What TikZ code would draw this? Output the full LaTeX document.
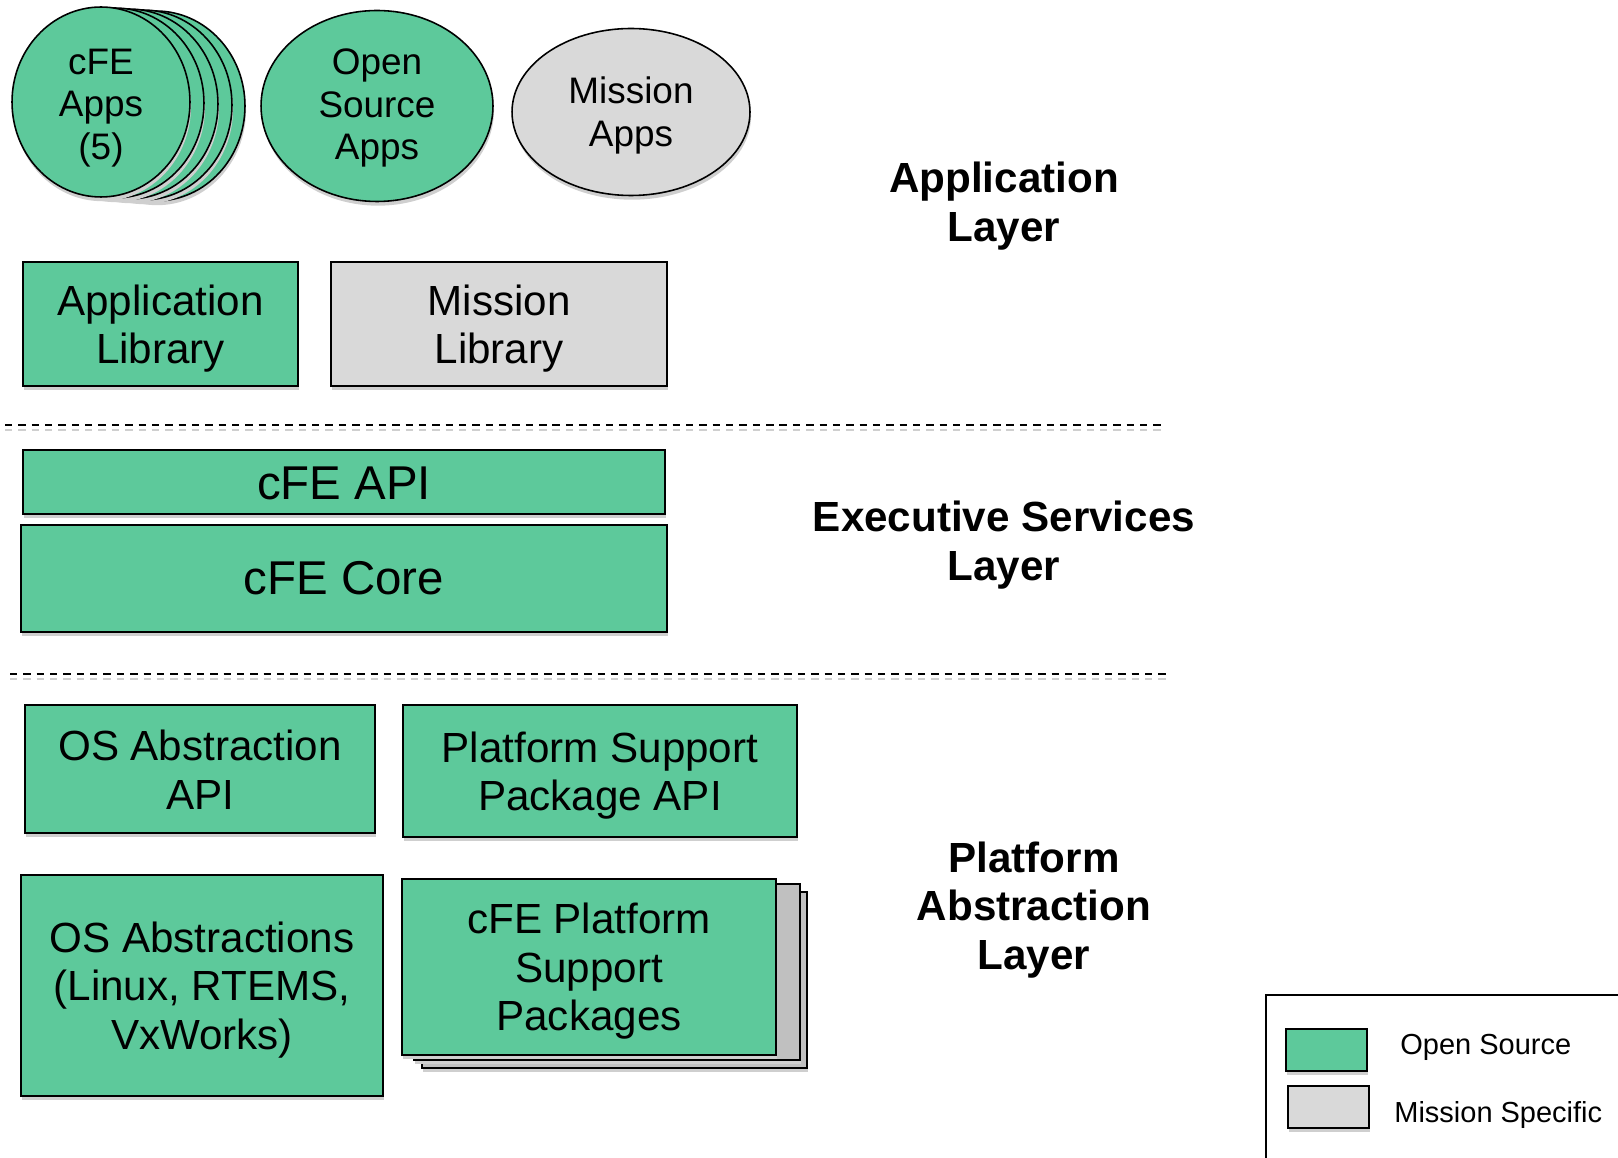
\documentclass[tikz,border=0pt]{standalone}
\usepackage{fontspec}
\setmainfont{Liberation Sans}
\usetikzlibrary{shapes.geometric,shadows}
\definecolor{osgreen}{HTML}{5DC99B}
\definecolor{msgray}{HTML}{D9D9D9}
\definecolor{stackgray}{HTML}{C0C0C0}
\definecolor{shadowgray}{HTML}{CFCFCF}
\begin{document}
\begin{tikzpicture}[x=0.02cm,y=-0.02cm,
  shadowed/.style={drop shadow={shadow xshift=0.6pt,shadow yshift=-2.4pt,fill=shadowgray,opacity=1}},
  box/.style={rectangle,draw=black,line width=1.1pt,inner sep=0pt,shadowed},
  boxtext/.style={align=center,inner sep=0pt,font=\fontsize{24}{27.6}\selectfont,yshift=-2.6pt},
  bigtext/.style={align=center,inner sep=0pt,font=\fontsize{27}{31}\selectfont},
  txt/.style={label={[boxtext]center:{#1}}},
  greenfill/.style={fill=osgreen},
  grayfill/.style={fill=msgray},
  app/.style={ellipse,draw=black,line width=0.9pt,inner sep=0pt,shadowed},
  apptext/.style={align=center,inner sep=0pt,font=\fontsize{21}{24.2}\selectfont},
  layer/.style={align=center,font=\fontsize{24}{27.6}\selectfont\bfseries},
  sep/.style={line width=1.2pt,dash pattern=on 4.2pt off 3.4pt},
  legtext/.style={anchor=west,inner sep=0pt,font=\fontsize{16.5}{19}\selectfont}]
\useasboundingbox (0,0) rectangle (1618,1158);

% --- Application layer: apps
\node[app,greenfill,minimum width=3.56cm,minimum height=3.8cm] (cfeE) at (156,106) {};
\node[app,greenfill,minimum width=3.56cm,minimum height=3.8cm] (cfeD) at (143,105) {};
\node[app,greenfill,minimum width=3.56cm,minimum height=3.8cm] (cfeC) at (129,104) {};
\node[app,greenfill,minimum width=3.56cm,minimum height=3.8cm] (cfeB) at (115,103) {};
\node[app,greenfill,minimum width=3.56cm,minimum height=3.8cm,
  label={[apptext,yshift=-3.3pt]center:{cFE\\Apps\\(5)}}] (cfeA) at (101,102) {};
\node[app,greenfill,minimum width=4.64cm,minimum height=3.82cm,
  label={[apptext,yshift=-1.2pt]center:{Open\\Source\\Apps}}] (osapps) at (377,106) {};
\node[app,grayfill,minimum width=4.76cm,minimum height=3.34cm,
  label={[apptext,yshift=-2.0pt]center:{Mission\\Apps}}] (msapps) at (631,112) {};

% --- libraries
\node[box,greenfill,minimum width=5.5cm,minimum height=2.48cm,txt={Application\\Library}] (applib) at (160.5,324) {};
\node[box,grayfill,minimum width=6.72cm,minimum height=2.48cm,txt={Mission\\Library}] (mslib) at (499,324) {};

% --- separator 1
\coordinate (s1a) at (5,425);
\coordinate (s1b) at (1163,425);
\draw[sep,draw=shadowgray] ([yshift=-2.6pt]s1a) -- ([yshift=-2.6pt]s1b);
\draw[sep] (s1a) -- (s1b);

% --- executive services
\node[box,greenfill,minimum width=12.84cm,minimum height=1.28cm,
  label={[bigtext,yshift=-0.9pt]center:{cFE API}}] (cfeapi) at (344,482) {};
\node[box,greenfill,minimum width=12.92cm,minimum height=2.14cm,
  label={[bigtext,yshift=0pt]center:{cFE Core}}] (cfecore) at (344,578.5) {};

% --- separator 2
\coordinate (s2a) at (10,674);
\coordinate (s2b) at (1167,674);
\draw[sep,draw=shadowgray] ([yshift=-2.6pt]s2a) -- ([yshift=-2.6pt]s2b);
\draw[sep] (s2a) -- (s2b);

% --- platform abstraction
\node[box,greenfill,minimum width=7.0cm,minimum height=2.56cm,
  label={[boxtext,yshift=2.3pt]center:{OS Abstraction\\API}}] (osalapi) at (200,769) {};
\node[box,greenfill,minimum width=7.88cm,minimum height=2.64cm,txt={Platform Support\\Package API}] (pspapi) at (600,771) {};
\node[box,greenfill,minimum width=7.24cm,minimum height=4.42cm,txt={OS Abstractions\\(Linux, RTEMS,\\VxWorks)}] (osal) at (202,985.5) {};
\node[box,fill=stackgray,minimum width=7.7cm,minimum height=3.52cm] (psp3) at (614.5,980) {};
\node[box,fill=stackgray,minimum width=7.72cm,minimum height=3.52cm] (psp2) at (607,972) {};
\node[box,greenfill,minimum width=7.48cm,minimum height=3.52cm,txt={cFE Platform\\Support\\Packages}] (psp) at (589,967) {};

% --- layer labels
\node[layer] (applayer) at (1004,206) {Application\\Layer};
\node[layer] (eslayer) at (1004,545) {Executive Services\\Layer};
\node[layer] (palayer) at (1034,910) {Platform\\Abstraction\\Layer};

% --- legend
\coordinate (lgA) at (1266,1170);
\coordinate (lgB) at (1266,995);
\coordinate (lgC) at (1630,995);
\draw[line width=1.1pt] (lgA) -- (lgB) -- (lgC);
\node[box,greenfill,minimum width=1.62cm,minimum height=0.84cm] (legos) at (1326.5,1050) {};
\node[box,grayfill,minimum width=1.62cm,minimum height=0.84cm] (legms) at (1328.5,1107) {};
\node[legtext] (legostext) at (1400,1047) {Open Source};
\node[legtext] (legmstext) at (1394,1115) {Mission Specific};
\end{tikzpicture}
\end{document}
